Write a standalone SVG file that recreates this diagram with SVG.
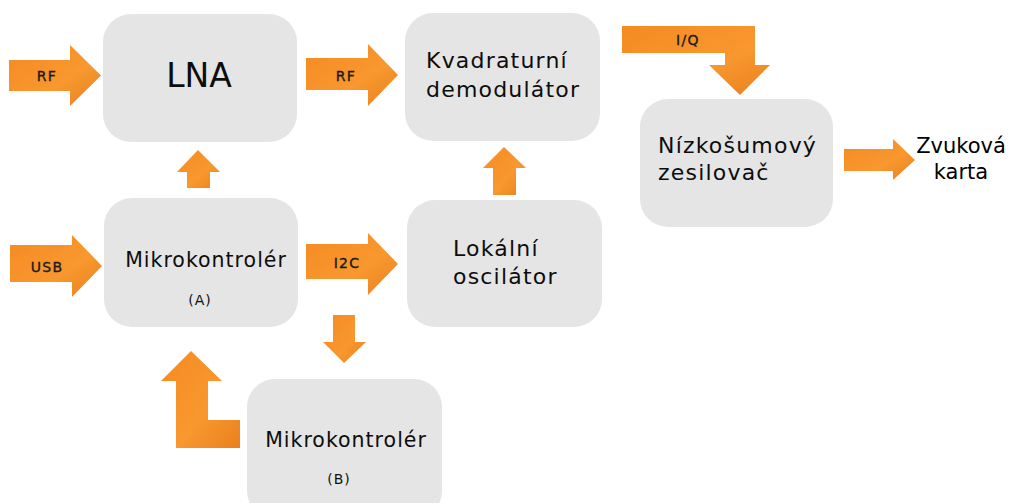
<svg xmlns="http://www.w3.org/2000/svg" width="1009" height="503" viewBox="0 0 1009 503">
<defs>
<linearGradient id="og" x1="0" y1="0" x2="1" y2="1">
<stop offset="0" stop-color="#f58a22"/>
<stop offset="0.6" stop-color="#f8982f"/>
<stop offset="1" stop-color="#e9801c"/>
</linearGradient>
</defs>
<style>
.box{fill:#e5e5e5}
.arr{fill:url(#og)}
.t{font-family:"DejaVu Sans",sans-serif;font-size:22px;letter-spacing:1.2px;fill:#0d0d0d}
.m{font-family:"DejaVu Sans",sans-serif;font-size:20.5px;letter-spacing:1px;fill:#0d0d0d;text-anchor:middle}
.s{font-family:"DejaVu Sans",sans-serif;font-size:14px;letter-spacing:1.3px;fill:#1a1a1a;stroke:#1a1a1a;stroke-width:0.35px;text-anchor:middle}
.p{font-family:"DejaVu Sans",sans-serif;font-size:14px;letter-spacing:1px;fill:#111;text-anchor:middle}
</style>
<g id="lna"><rect class="box" x="103" y="14" width="194" height="128" rx="28"/><text x="199" y="87" font-family="DejaVu Sans, sans-serif" font-size="33" fill="#0d0d0d" text-anchor="middle">LNA</text></g>
<g id="demod"><rect class="box" x="405" y="13" width="195" height="128" rx="28"/><text class="t" x="426" y="68">Kvadraturní</text><text class="t" x="426" y="97">demodulátor</text></g>
<g id="mcuA"><rect class="box" x="104" y="198" width="194" height="129" rx="28"/><text class="m" x="206" y="267">Mikrokontrolér</text><text class="p" x="200" y="305">(A)</text></g>
<g id="lo"><rect class="box" x="407" y="200" width="195" height="127" rx="28"/><text class="t" x="453" y="256">Lokální</text><text class="t" x="453" y="284">oscilátor</text></g>
<g id="mcuB"><rect class="box" x="247" y="379" width="195" height="140" rx="28"/><text class="m" x="346" y="447">Mikrokontrolér</text><text class="p" x="339" y="484">(B)</text></g>
<g id="lnamp"><rect class="box" x="640" y="99" width="193" height="128" rx="28"/><text class="t" x="658" y="153">Nízkošumový</text><text class="t" x="658" y="180">zesilovač</text></g>
<g id="card"><text x="961" y="153" font-family="DejaVu Sans, sans-serif" font-size="21" fill="#000" text-anchor="middle">Zvuková</text><text x="961" y="179" font-family="DejaVu Sans, sans-serif" font-size="21" fill="#000" text-anchor="middle">karta</text></g>
<g id="connectors">
<path class="arr" d="M9,60 H70 V45 L101,75.5 L70,106 V91 H9 Z"/>
<path class="arr" d="M306,58 H368 V44 L398,75 L368,106 V90 H306 Z"/>
<path class="arr" d="M10,245 H72 V235 L102,266 L72,297 V282 H10 Z"/>
<path class="arr" d="M306,244 H368 V233 L398,264 L368,295 V279 H306 Z"/>
<path class="arr" d="M844,149 H893 V139 L915,160 L893,180 V171 H844 Z"/>
<path class="arr" d="M187,188 V172 H177 L198,150 L220,172 H210 V188 Z"/>
<path class="arr" d="M493,195 V168 H483 L504,147 L526,168 H516 V195 Z"/>
<path class="arr" d="M333,315 H355 V342 H366 L344,363 L323,342 H333 Z"/>
<path class="arr" d="M176,448 V381 H161 L191,351 L222,381 H208 V420 H240 V448 Z"/>
<path class="arr" d="M622,26 H755 V65 H770 L740,95 L709,65 H725 V53 H622 Z"/>
<text class="s" x="47" y="81">RF</text>
<text class="s" x="346" y="81">RF</text>
<text class="s" x="47" y="272">USB</text>
<text class="s" x="347" y="268">I2C</text>
<text class="s" x="688" y="45">I/Q</text>
</g>
</svg>
